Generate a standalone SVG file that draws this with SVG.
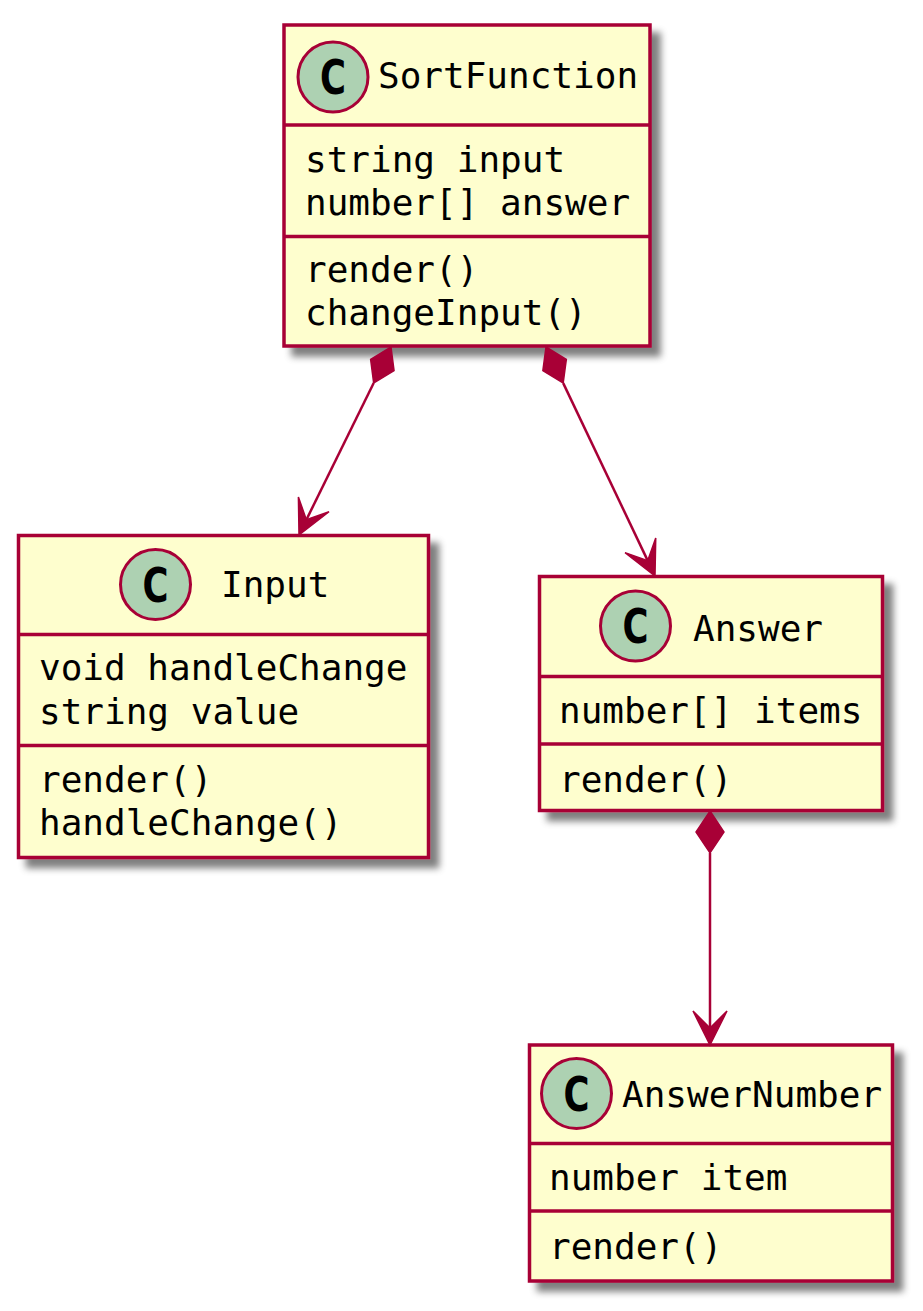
<svg xmlns="http://www.w3.org/2000/svg" width="923" height="1311" viewBox="0 0 923 1311">
<defs>
<filter id="sh" x="-10%" y="-10%" width="130%" height="130%">
<feGaussianBlur in="SourceAlpha" stdDeviation="3.5"/>
<feOffset dx="9" dy="9" result="b"/>
<feFlood flood-color="#000" flood-opacity="0.5"/>
<feComposite in2="b" operator="in"/>
<feMerge><feMergeNode/><feMergeNode in="SourceGraphic"/></feMerge>
</filter>
<style>
.box{fill:#FEFECE;stroke:#A80036;stroke-width:3.5}
.sep{stroke:#A80036;stroke-width:3.5}
.circ{fill:#ADD1B2;stroke:#A80036;stroke-width:3}
.c{font-family:"DejaVu Sans",sans-serif;font-weight:bold;font-size:48px;fill:#000}
.t{font-family:"DejaVu Sans Mono","Liberation Mono",monospace;font-size:36px;fill:#000}
.ln{stroke:#A80036;stroke-width:2.5;fill:none}
.hd{fill:#A80036;stroke:#A80036;stroke-width:1.5;stroke-linejoin:miter}
</style>
</defs>
<rect width="923" height="1311" fill="#FFFFFF"/>

<g id="SortFunction">
<rect class="box" x="284" y="25" width="366" height="321" filter="url(#sh)"/>
<line class="sep" x1="284" y1="125" x2="650" y2="125"/>
<line class="sep" x1="284" y1="236.5" x2="650" y2="236.5"/>
<circle class="circ" cx="333" cy="77" r="35"/>
<text class="c" x="320" y="94" textLength="26" lengthAdjust="spacingAndGlyphs">C</text>
<text class="t" x="378" y="88">SortFunction</text>
<text class="t" x="305" y="172">string input</text>
<text class="t" x="305" y="215">number[] answer</text>
<text class="t" x="305" y="282">render()</text>
<text class="t" x="305" y="325">changeInput()</text>
</g>

<g id="Input">
<rect class="box" x="18.5" y="535.5" width="410" height="322" filter="url(#sh)"/>
<line class="sep" x1="18.5" y1="634.5" x2="428.5" y2="634.5"/>
<line class="sep" x1="18.5" y1="745.5" x2="428.5" y2="745.5"/>
<circle class="circ" cx="155.5" cy="584.5" r="35"/>
<text class="c" x="142.5" y="601.5" textLength="26" lengthAdjust="spacingAndGlyphs">C</text>
<text class="t" x="221" y="597">Input</text>
<text class="t" x="39" y="680">void handleChange</text>
<text class="t" x="39" y="724">string value</text>
<text class="t" x="39" y="792">render()</text>
<text class="t" x="39" y="835">handleChange()</text>
</g>

<g id="Answer">
<rect class="box" x="539.5" y="576.5" width="343" height="234" filter="url(#sh)"/>
<line class="sep" x1="539.5" y1="676.5" x2="882.5" y2="676.5"/>
<line class="sep" x1="539.5" y1="744" x2="882.5" y2="744"/>
<circle class="circ" cx="635.5" cy="626" r="35"/>
<text class="c" x="622.5" y="643" textLength="26" lengthAdjust="spacingAndGlyphs">C</text>
<text class="t" x="693" y="641">Answer</text>
<text class="t" x="559" y="723">number[] items</text>
<text class="t" x="559" y="792">render()</text>
</g>

<g id="AnswerNumber">
<rect class="box" x="529.5" y="1045" width="363" height="236" filter="url(#sh)"/>
<line class="sep" x1="529.5" y1="1143.5" x2="892.5" y2="1143.5"/>
<line class="sep" x1="529.5" y1="1211" x2="892.5" y2="1211"/>
<circle class="circ" cx="576.5" cy="1093.5" r="35"/>
<text class="c" x="563.5" y="1110.5" textLength="26" lengthAdjust="spacingAndGlyphs">C</text>
<text class="t" x="622" y="1107">AnswerNumber</text>
<text class="t" x="549" y="1190">number item</text>
<text class="t" x="549" y="1259">render()</text>
</g>

<g id="connectors">
<line class="ln" x1="373.7" y1="383" x2="306.4" y2="519.7"/>
<polygon class="hd" points="391,347 394.05,370.65 373.68,383.04 370.63,359.39"/>
<polygon class="hd" points="299,535 329.04,511.73 306.36,519.68 298.4,497.01"/>

<line class="ln" x1="563.2" y1="383.1" x2="647.7" y2="560.6"/>
<polygon class="hd" points="546,347 566.34,359.47 563.19,383.12 542.86,370.65"/>
<polygon class="hd" points="655,576 655.74,537.99 647.69,560.65 625.04,552.61"/>

<line class="ln" x1="710" y1="853" x2="710" y2="1028"/>
<polygon class="hd" points="710,811 724,832 710,853 696,832"/>
<polygon class="hd" points="710,1045 727,1011 710,1028 693,1011"/>
</g>
</svg>
